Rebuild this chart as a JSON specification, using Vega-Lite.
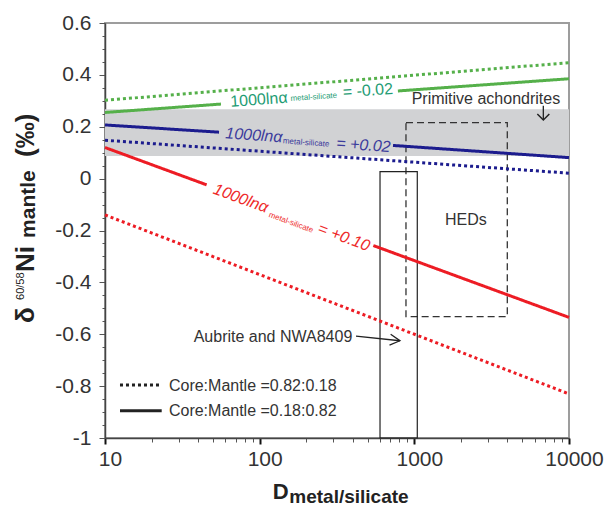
{
  "$schema": "https://vega.github.io/schema/vega-lite/v6.json",
  "width": 464,
  "height": 415,
  "autosize": {"type": "none"},
  "padding": {"left": 105, "top": 23, "right": 45, "bottom": 68},
  "background": "white",
  "config": {
    "view": {"stroke": "#9d9d9d", "strokeWidth": 2},
    "font": "Liberation Sans",
    "text": {"font": "Liberation Sans"}
  },
  "datasets": {
    "band": [{"D": 10, "D2": 10000, "v": 0.087, "v2": 0.267}],
    "boxes": [
      {"name": "HEDs", "D": 883, "D2": 3991, "v": 0.216, "v2": -0.532},
      {"name": "Aubrite and NWA8409", "D": 600, "D2": 1045, "v": 0.027, "v2": -1}
    ],
    "models": [
      {"alpha": "-0.02", "ratio": "0.18:0.82", "seg": "a", "D": 10, "v": 0.255},
      {"alpha": "-0.02", "ratio": "0.18:0.82", "seg": "a", "D": 56.2, "v": 0.2875},
      {"alpha": "-0.02", "ratio": "0.18:0.82", "seg": "b", "D": 783, "v": 0.338},
      {"alpha": "-0.02", "ratio": "0.18:0.82", "seg": "b", "D": 10000, "v": 0.385},
      {"alpha": "-0.02", "ratio": "0.82:0.18", "seg": "a", "D": 10, "v": 0.302},
      {"alpha": "-0.02", "ratio": "0.82:0.18", "seg": "a", "D": 10000, "v": 0.447},
      {"alpha": "+0.02", "ratio": "0.18:0.82", "seg": "a", "D": 10, "v": 0.207},
      {"alpha": "+0.02", "ratio": "0.18:0.82", "seg": "a", "D": 54.6, "v": 0.179},
      {"alpha": "+0.02", "ratio": "0.18:0.82", "seg": "b", "D": 728, "v": 0.128},
      {"alpha": "+0.02", "ratio": "0.18:0.82", "seg": "b", "D": 10000, "v": 0.081},
      {"alpha": "+0.02", "ratio": "0.82:0.18", "seg": "a", "D": 10, "v": 0.148},
      {"alpha": "+0.02", "ratio": "0.82:0.18", "seg": "a", "D": 10000, "v": 0.021},
      {"alpha": "+0.10", "ratio": "0.18:0.82", "seg": "a", "D": 10, "v": 0.12},
      {"alpha": "+0.10", "ratio": "0.18:0.82", "seg": "a", "D": 45.4, "v": -0.024},
      {"alpha": "+0.10", "ratio": "0.18:0.82", "seg": "b", "D": 543, "v": -0.258},
      {"alpha": "+0.10", "ratio": "0.18:0.82", "seg": "b", "D": 10000, "v": -0.535},
      {"alpha": "+0.10", "ratio": "0.82:0.18", "seg": "a", "D": 10, "v": -0.14},
      {"alpha": "+0.10", "ratio": "0.82:0.18", "seg": "a", "D": 10000, "v": -0.83}
    ],
    "legendLines": [
      {"ratio": "0.82:0.18", "D": 12.5, "v": -0.7955},
      {"ratio": "0.82:0.18", "D": 23.26, "v": -0.7955},
      {"ratio": "0.18:0.82", "D": 12.5, "v": -0.8946},
      {"ratio": "0.18:0.82", "D": 23.26, "v": -0.8946}
    ],
    "legendText": [
      {"text": "Core:Mantle =0.82:0.18", "D": 25.9, "v": -0.8175},
      {"text": "Core:Mantle =0.18:0.82", "D": 25.9, "v": -0.915}
    ],
    "arrows": [
      {"D": 6823, "D2": 6823, "v": 0.281, "v2": 0.226},
      {"D": 419.6, "D2": 807, "v": -0.607, "v2": -0.625}
    ],
    "headDown": [{"D": 6823, "v": 0.226}],
    "headRight": [{"D": 807, "v": -0.625}],
    "labelsBig": [
      {"alpha": "-0.02", "text": "1000lnα", "D": 65.0, "v": 0.277},
      {"alpha": "-0.02", "text": "= -0.02", "D": 347, "v": 0.313}
    ],
    "labelsBigBlue": [
      {"alpha": "+0.02", "text": "1000lnα", "D": 59.7, "v": 0.1555},
      {"alpha": "+0.02", "text": "= +0.02", "D": 311.5, "v": 0.117}
    ],
    "labelsBigRed": [
      {"alpha": "+0.10", "text": "1000lnα", "D": 49.4, "v": -0.0565},
      {"alpha": "+0.10", "text": "= +0.10", "D": 233.7, "v": -0.208}
    ],
    "subGreen": [{"text": "metal-silicate", "D": 158.7, "v": 0.299}],
    "subBlue": [{"text": "metal-silicate", "D": 140.8, "v": 0.136}],
    "subRed": [{"text": "metal-silicate", "D": 113.7, "v": -0.1467}],
    "notesLeft": [{"text": "Primitive achondrites", "D": 961, "v": 0.2877}],
    "notesCenter": [{"text": "HEDs", "D": 2153, "v": -0.179}],
    "notesRight": [{"text": "Aubrite and NWA8409", "D": 397, "v": -0.629}],
    "yTitleBig": [
      {"text": "δ", "D": 3.475, "v": -0.5565},
      {"text": "Ni", "D": 3.475, "v": -0.3599},
      {"text": "(‰)", "D": 3.475, "v": 0.0834}
    ],
    "yTitleSup": [{"text": "60/58", "D": 2.995, "v": -0.4679}],
    "yTitleSub": [{"text": "mantle", "D": 3.527, "v": -0.2288}],
    "xTitleBig": [{"text": "D", "D": 121.4, "v": -1.235}],
    "xTitleSub": [{"text": "metal/silicate", "D": 155.4, "v": -1.2516}]
  },
  "encoding": {
    "x": {
      "field": "D",
      "type": "quantitative",
      "scale": {"type": "log", "domain": [10, 10000], "nice": false},
      "axis": {
        "title": null,
        "grid": false,
        "values": [10, 20, 30, 40, 50, 60, 70, 80, 90, 100, 200, 300, 400, 500, 600, 700, 800, 900, 1000, 2000, 3000, 4000, 5000, 6000, 7000, 8000, 9000, 10000],
        "labelExpr": "indexof([10,100,1000,10000], datum.value) >= 0 ? '' + datum.value : ''",
        "domainColor": "#444",
        "domainWidth": 1.5,
        "tickColor": {"condition": {"test": "indexof([10,100,1000,10000], datum.value) >= 0", "value": "#111"}, "value": "#555"},
        "tickSize": {"condition": {"test": "indexof([10,100,1000,10000], datum.value) >= 0", "value": 6}, "value": 4},
        "tickWidth": {"condition": {"test": "indexof([10,100,1000,10000], datum.value) >= 0", "value": 2}, "value": 1},
        "labelFont": "Liberation Sans",
        "labelFontSize": 21,
        "labelColor": "#333",
        "labelPadding": 4,
        "labelOffset": 5,
        "labelFlush": false,
        "labelOverlap": false
      }
    },
    "y": {
      "field": "v",
      "type": "quantitative",
      "scale": {"domain": [-1, 0.6], "nice": false, "zero": false},
      "axis": {
        "title": null,
        "grid": false,
        "values": [-1, -0.95, -0.9, -0.85, -0.8, -0.75, -0.7, -0.65, -0.6, -0.55, -0.5, -0.45, -0.4, -0.35, -0.3, -0.25, -0.2, -0.15, -0.1, -0.05, 0, 0.05, 0.1, 0.15, 0.2, 0.25, 0.3, 0.35, 0.4, 0.45, 0.5, 0.55, 0.6],
        "labelExpr": "abs(round(datum.value*20)) % 4 == 0 ? '' + datum.value : ''",
        "domainColor": "#444",
        "domainWidth": 1.5,
        "tickColor": "#555",
        "tickSize": {"condition": {"test": "abs(round(datum.value*20)) % 4 == 0", "value": 6}, "value": 3},
        "tickWidth": 1,
        "labelFont": "Liberation Sans",
        "labelFontSize": 21,
        "labelColor": "#333",
        "labelPadding": 8,
        "labelFlush": false,
        "labelOverlap": false
      }
    }
  },
  "layer": [
    {
      "data": {"name": "band"},
      "mark": {"type": "rect", "color": "#d1d2d4"},
      "encoding": {"x2": {"field": "D2"}, "y2": {"field": "v2"}}
    },
    {
      "data": {"name": "boxes"},
      "transform": [{"filter": "datum.name == 'HEDs'"}],
      "mark": {"type": "rect", "fillOpacity": 0, "stroke": "#333", "strokeWidth": 1.3, "strokeDash": [7, 4]},
      "encoding": {"x2": {"field": "D2"}, "y2": {"field": "v2"}}
    },
    {
      "data": {"name": "boxes"},
      "transform": [{"filter": "datum.name != 'HEDs'"}],
      "mark": {"type": "rect", "fillOpacity": 0, "stroke": "#222", "strokeWidth": 1.2},
      "encoding": {"x2": {"field": "D2"}, "y2": {"field": "v2"}}
    },
    {
      "data": {"name": "models"},
      "mark": {"type": "line", "strokeWidth": 3, "strokeCap": "butt"},
      "encoding": {
        "color": {"field": "alpha", "type": "nominal", "scale": {"domain": ["-0.02", "+0.02", "+0.10"], "range": ["#55b04a", "#1c1c8e", "#ed1c24"]}, "legend": null},
        "strokeDash": {"field": "ratio", "type": "nominal", "scale": {"domain": ["0.82:0.18", "0.18:0.82"], "range": [[3, 3], [1, 0]]}, "legend": null},
        "detail": {"field": "seg"}
      }
    },
    {
      "data": {"name": "legendLines"},
      "mark": {"type": "line", "strokeWidth": 3, "color": "#222", "strokeCap": "butt"},
      "encoding": {
        "strokeDash": {"field": "ratio", "type": "nominal", "legend": null}
      }
    },
    {
      "data": {"name": "legendText"},
      "mark": {"type": "text", "align": "left", "baseline": "alphabetic", "fontSize": 16, "color": "#333"},
      "encoding": {"text": {"field": "text"}}
    },
    {
      "data": {"name": "arrows"},
      "mark": {"type": "rule", "color": "#222", "strokeWidth": 1.3},
      "encoding": {"x2": {"field": "D2"}, "y2": {"field": "v2"}}
    },
    {
      "data": {"name": "headDown"},
      "mark": {"type": "point", "shape": "M-1,-1L0,0L1,-1", "size": 144, "filled": false, "color": "#222", "strokeWidth": 1.5, "opacity": 1},
      "encoding": {}
    },
    {
      "data": {"name": "headRight"},
      "mark": {"type": "point", "shape": "M-1.8,-1L0,0L-1.8,1", "size": 121, "angle": 6, "filled": false, "color": "#222", "strokeWidth": 1.3, "opacity": 1},
      "encoding": {}
    },
    {
      "data": {"name": "labelsBig"},
      "mark": {"type": "text", "align": "left", "baseline": "alphabetic", "fontSize": 16, "angle": -4.1, "color": "#1e9c74"},
      "encoding": {"text": {"field": "text"}}
    },
    {
      "data": {"name": "subGreen"},
      "mark": {"type": "text", "align": "left", "baseline": "alphabetic", "fontSize": 8, "angle": -4.1, "color": "#1e9c74"},
      "encoding": {"text": {"field": "text"}}
    },
    {
      "data": {"name": "labelsBigBlue"},
      "mark": {"type": "text", "align": "left", "baseline": "alphabetic", "fontSize": 16, "fontStyle": "italic", "angle": 4, "color": "#3c3c9c"},
      "encoding": {"text": {"field": "text"}}
    },
    {
      "data": {"name": "subBlue"},
      "mark": {"type": "text", "align": "left", "baseline": "alphabetic", "fontSize": 8, "angle": 4, "color": "#3c3c9c"},
      "encoding": {"text": {"field": "text"}}
    },
    {
      "data": {"name": "labelsBigRed"},
      "mark": {"type": "text", "align": "left", "baseline": "alphabetic", "fontSize": 16, "fontStyle": "italic", "angle": 20.1, "color": "#ee2b2b"},
      "encoding": {"text": {"field": "text"}}
    },
    {
      "data": {"name": "subRed"},
      "mark": {"type": "text", "align": "left", "baseline": "alphabetic", "fontSize": 8, "angle": 20.1, "color": "#ee2b2b"},
      "encoding": {"text": {"field": "text"}}
    },
    {
      "data": {"name": "notesLeft"},
      "mark": {"type": "text", "align": "left", "baseline": "alphabetic", "fontSize": 16, "color": "#333"},
      "encoding": {"text": {"field": "text"}}
    },
    {
      "data": {"name": "notesCenter"},
      "mark": {"type": "text", "align": "center", "baseline": "alphabetic", "fontSize": 16, "color": "#333"},
      "encoding": {"text": {"field": "text"}}
    },
    {
      "data": {"name": "notesRight"},
      "mark": {"type": "text", "align": "right", "baseline": "alphabetic", "fontSize": 16, "color": "#333"},
      "encoding": {"text": {"field": "text"}}
    },
    {
      "data": {"name": "yTitleBig"},
      "mark": {"type": "text", "align": "left", "baseline": "alphabetic", "fontSize": 26, "fontWeight": "bold", "angle": 270, "color": "#222"},
      "encoding": {"text": {"field": "text"}}
    },
    {
      "data": {"name": "yTitleSup"},
      "mark": {"type": "text", "align": "left", "baseline": "alphabetic", "fontSize": 11, "angle": 270, "color": "#222"},
      "encoding": {"text": {"field": "text"}}
    },
    {
      "data": {"name": "yTitleSub"},
      "mark": {"type": "text", "align": "left", "baseline": "alphabetic", "fontSize": 21, "fontWeight": "bold", "angle": 270, "color": "#222"},
      "encoding": {"text": {"field": "text"}}
    },
    {
      "data": {"name": "xTitleBig"},
      "mark": {"type": "text", "align": "left", "baseline": "alphabetic", "fontSize": 22, "fontWeight": "bold", "color": "#222"},
      "encoding": {"text": {"field": "text"}}
    },
    {
      "data": {"name": "xTitleSub"},
      "mark": {"type": "text", "align": "left", "baseline": "alphabetic", "fontSize": 19, "fontWeight": "bold", "color": "#222"},
      "encoding": {"text": {"field": "text"}}
    }
  ]
}
